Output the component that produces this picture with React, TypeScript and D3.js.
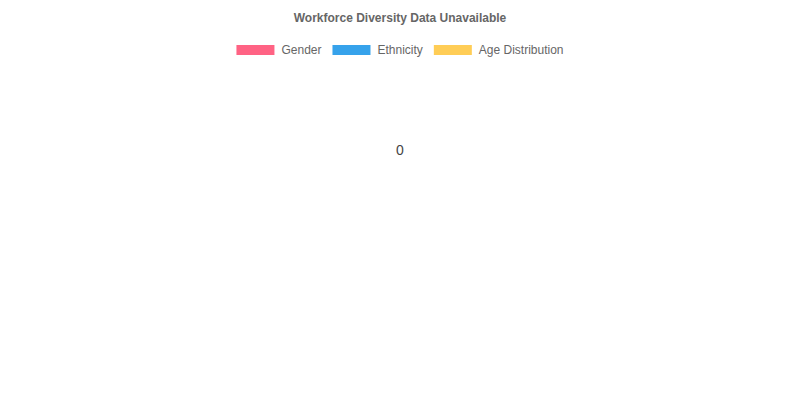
import { useEffect, useRef } from 'react';
import * as d3 from 'd3';

// ─── Data ───────────────────────────────────────────────────

const TITLE = 'Workforce Diversity Data Unavailable';
const CATEGORIES = ['Gender', 'Ethnicity', 'Age Distribution'];
const VALUES = [0, 0, 0];
const COLORS = ['rgb(255, 99, 132)', 'rgb(54, 162, 235)', 'rgb(255, 205, 86)'];

// ─── Constants ──────────────────────────────────────────────

const WIDTH = 800;
const HEIGHT = 400;
const FONT = '"Liberation Sans", Arial, Helvetica, sans-serif';
const BOX_W = 38;
const BOX_H = 10;
const BOX_GAP = 7;
const ITEM_GAP = 11;

export default function App() {
  const svgRef = useRef<SVGSVGElement>(null);

  useEffect(() => {
    if (!svgRef.current) return;
    const svg = d3.select(svgRef.current);
    svg.selectAll('*').remove();

    // Title
    svg.append('text')
      .attr('x', WIDTH / 2).attr('y', 21.5)
      .attr('text-anchor', 'middle')
      .attr('font-family', FONT)
      .attr('font-size', '12px')
      .attr('font-weight', 'bold')
      .attr('fill', '#666')
      .text(TITLE);

    // Legend — measure labels, then center the row
    const legend = svg.append('g');
    const items = legend.selectAll('g')
      .data(CATEGORIES)
      .join('g');

    items.append('rect')
      .attr('width', BOX_W).attr('height', BOX_H)
      .attr('y', 45)
      .attr('fill', (_, i) => COLORS[i]);

    items.append('text')
      .attr('x', BOX_W + BOX_GAP).attr('y', 50)
      .attr('dominant-baseline', 'central')
      .attr('font-family', FONT)
      .attr('font-size', '12px')
      .attr('fill', '#666')
      .text((d) => d);

    const widths = items.nodes().map((n) =>
      BOX_W + BOX_GAP + (d3.select(n).select('text').node() as SVGTextElement).getComputedTextLength());
    const total = d3.sum(widths) + ITEM_GAP * (widths.length - 1);
    let cx = WIDTH / 2 - total / 2;
    items.attr('transform', (_, i) => {
      const t = `translate(${cx},0)`;
      cx += widths[i] + ITEM_GAP;
      return t;
    });

    // Pie (empty when all values are zero)
    const cy = 150;
    const radius = 120;
    const pie = d3.pie<number>().sort(null);
    const arc = d3.arc<d3.PieArcDatum<number>>().innerRadius(0).outerRadius(radius);
    const g = svg.append('g').attr('transform', `translate(${WIDTH / 2},${cy})`);
    g.selectAll('path')
      .data(pie(VALUES).filter((d) => d.value > 0))
      .join('path')
      .attr('d', arc)
      .attr('fill', (d) => COLORS[d.index])
      .attr('stroke', '#fff');

    // Total label
    g.append('text')
      .attr('text-anchor', 'middle')
      .attr('dominant-baseline', 'central')
      .attr('font-family', FONT)
      .attr('font-size', '14px')
      .attr('fill', '#444')
      .text(d3.sum(VALUES));
  }, []);

  return (
    <div style={{ position: 'absolute', left: 0, top: 0, width: WIDTH, height: HEIGHT, background: '#fff' }}>
      <svg ref={svgRef} width={WIDTH} height={HEIGHT} style={{ display: 'block' }} />
    </div>
  );
}
